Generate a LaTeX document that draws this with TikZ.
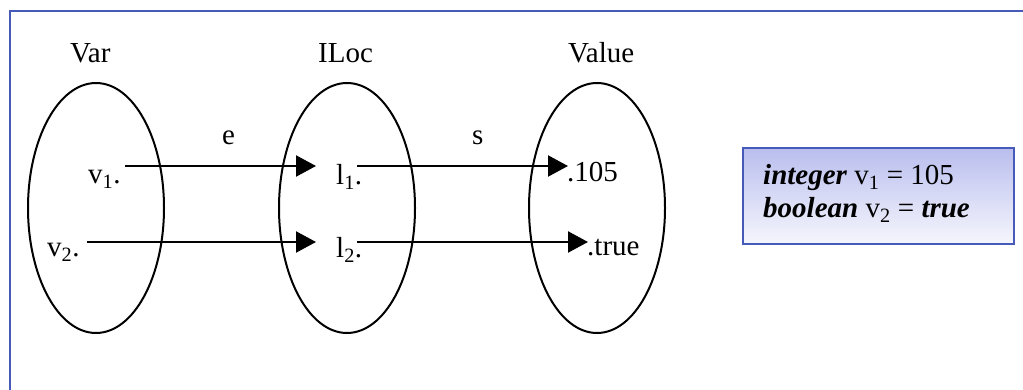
\documentclass[tikz,border=0pt]{standalone}
\usepackage{fontspec}
\setmainfont{Liberation Serif}
\usetikzlibrary{arrows.meta,shapes.geometric}
\definecolor{frameblue}{RGB}{70,90,185}
\definecolor{boxtop}{RGB}{185,190,238}
\definecolor{boxbot}{RGB}{246,246,252}
\begin{document}
\begin{tikzpicture}[x=1pt,y=-1pt,
  lbl/.style={inner sep=0pt, anchor=base west, font=\fontsize{29}{34}\selectfont},
  setell/.style={draw=black, line width=2pt, ellipse, inner sep=0pt,
                 minimum width=136pt, minimum height=250pt},
  maparrow/.style={line width=2.2pt, -{Triangle[length=20pt,width=21pt]}}]
\useasboundingbox (0,0) rectangle (1023,390);
\clip (0,0) rectangle (1023,390);
\fill[white] (0,0) rectangle (1023,390);
% outer frame (runs off right and bottom)
\draw[frameblue, line width=2pt] (10,400) -- (10,11) -- (1030,11);
% sets
\node[setell] (varset) at (96,208) {};
\node[setell] (ilocset) at (347,208) {};
\node[setell] (valset) at (597,208) {};
% set titles
\node[lbl] (varlbl) at (70,63) {Var};
\node[lbl] (iloclbl) at (318,63) {ILoc};
\node[lbl] (vallbl) at (568,63) {Value};
% mapping labels
\node[lbl] (elbl) at (222,145) {e};
\node[lbl] (slbl) at (472,145) {s};
% elements
\node[lbl] (v1) at (88,184) {v\textsubscript{1}.};
\node[lbl] (v2) at (47,257) {v\textsubscript{2}.};
\node[lbl] (l1) at (336,185) {l\textsubscript{1}.};
\node[lbl] (l2) at (336,258) {l\textsubscript{2}.};
\node[lbl] (n105) at (567,182) {.105};
\node[lbl] (ntrue) at (587,255) {.true};
% arrow endpoints
\coordinate (v1s) at (125,166);
\coordinate (l1t) at (316,166);
\coordinate (v2s) at (87,242);
\coordinate (l2t) at (316,242);
\coordinate (l1s) at (357,166);
\coordinate (n105t) at (568,166);
\coordinate (l2s) at (357,242);
\coordinate (ntruet) at (588,242);
\draw[maparrow] (v1s) -- (l1t);
\draw[maparrow] (v2s) -- (l2t);
\draw[maparrow] (l1s) -- (n105t);
\draw[maparrow] (l2s) -- (ntruet);
% declaration box
\node[draw=frameblue, line width=2pt, top color=boxtop, bottom color=boxbot,
      minimum width=271pt, minimum height=96pt, inner sep=0pt, anchor=north west]
      (declbox) at (742,147) {};
\node[lbl] (decl1) at (763,185) {\textbf{\textit{integer}} v\textsubscript{1} = 105};
\node[lbl] (decl2) at (763,218) {\textbf{\textit{boolean}} v\textsubscript{2} = \textbf{\textit{true}}};
\end{tikzpicture}
\end{document}
